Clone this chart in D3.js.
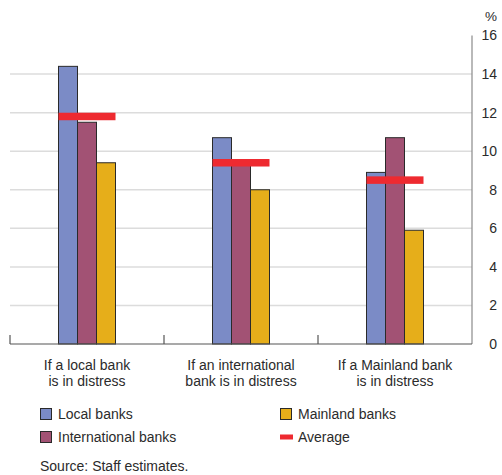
<!DOCTYPE html>
<html>
<head>
<meta charset="utf-8">
<script src="https://cdn.jsdelivr.net/npm/d3@7"></script>
<style>
  body { margin: 0; background: #fff; }
  text { font-family: "Liberation Sans", Arial, sans-serif; fill: #2b2b2b; }
</style>
</head>
<body>
<div id="chart"></div>
<script>
// Data
const categories = [["If a local bank", "is in distress"], ["If an international", "bank is in distress"], ["If a Mainland bank", "is in distress"]];
const seriesNames = ["Local banks", "International banks", "Mainland banks"];
const localBanks = [14.4, 10.7, 8.9];
const internationalBanks = [11.5, 9.5, 10.7];
const mainlandBanks = [9.4, 8.0, 5.9];
const averages = [11.8, 9.4, 8.5];
const yTicks = [0, 2, 4, 6, 8, 10, 12, 14, 16];

const colors = ["#7b8bc6", "#a25274", "#e6ae1a"];
const avgColor = "#ee2a30";

const W = 502, H = 475;
const svg = d3.select("#chart").append("svg")
    .attr("width", W).attr("height", H);

const plot = {left: 10, right: 472, top: 35.5, bottom: 344};

const x = d3.scaleBand()
    .domain(d3.range(categories.length))
    .range([plot.left, plot.right]);

const xInner = d3.scaleBand()
    .domain(d3.range(seriesNames.length))
    .range([0, 57])
    .padding(0);

const y = d3.scaleLinear().domain([0, 16]).range([plot.bottom, plot.top]);

// Gridlines
svg.append("g").selectAll("line")
    .data(yTicks.filter(t => t > 0 && t < 16))
    .enter().append("line")
    .attr("x1", plot.left).attr("x2", plot.right)
    .attr("y1", d => y(d)).attr("y2", d => y(d))
    .attr("stroke", "#dcdcdc").attr("stroke-width", 1.5);

// Right axis line
svg.append("line")
    .attr("x1", plot.right).attr("x2", plot.right)
    .attr("y1", plot.top).attr("y2", plot.bottom)
    .attr("stroke", "#8a8a8a").attr("stroke-width", 1.2);

// Tick labels
svg.append("g").selectAll("text")
    .data(yTicks)
    .enter().append("text")
    .attr("x", 497).attr("y", d => y(d)).attr("dy", "0.35em")
    .attr("text-anchor", "end")
    .style("font-size", "14px")
    .text(d => d);

svg.append("text")
    .attr("x", 497).attr("y", 21)
    .attr("text-anchor", "end")
    .style("font-size", "13.5px")
    .text("%");

// Bars
const series = [localBanks, internationalBanks, mainlandBanks];
const groupOffset = (x.bandwidth() - 57) / 2;

series.forEach((vals, s) => {
    svg.append("g").selectAll("rect")
        .data(vals)
        .enter().append("rect")
        .attr("x", (d, i) => x(i) + groupOffset + xInner(s))
        .attr("y", d => y(d))
        .attr("width", xInner.bandwidth())
        .attr("height", d => y(0) - y(d))
        .attr("fill", colors[s])
        .attr("stroke", "#2a2a2a").attr("stroke-width", 1);
});

// Averages
svg.append("g").selectAll("rect")
    .data(averages)
    .enter().append("rect")
    .attr("x", (d, i) => x(i) + groupOffset)
    .attr("y", d => y(d) - 3.75)
    .attr("width", 57)
    .attr("height", 7.5)
    .attr("fill", avgColor);

// Bottom axis
svg.append("line")
    .attr("x1", plot.left).attr("x2", plot.right)
    .attr("y1", plot.bottom).attr("y2", plot.bottom)
    .attr("stroke", "#555").attr("stroke-width", 1.2);

svg.append("g").selectAll("line")
    .data(d3.range(categories.length))
    .enter().append("line")
    .attr("x1", i => x(i)).attr("x2", i => x(i))
    .attr("y1", plot.bottom - 9).attr("y2", plot.bottom)
    .attr("stroke", "#555").attr("stroke-width", 1.2);

// Category labels
const catLabel = svg.append("g").selectAll("text")
    .data(categories)
    .enter().append("text")
    .attr("text-anchor", "middle")
    .style("font-size", "14px");

catLabel.each(function(lines, i) {
    lines.forEach((ln, j) => {
        d3.select(this).append("tspan")
            .attr("x", x(i) + x.bandwidth() / 2)
            .attr("y", 370 + j * 16)
            .text(ln);
    });
});

// Legend
const legendItems = [
    {name: seriesNames[0], color: colors[0], type: "box", lx: 40, ly: 414},
    {name: seriesNames[1], color: colors[1], type: "box", lx: 40, ly: 437},
    {name: seriesNames[2], color: colors[2], type: "box", lx: 280, ly: 414},
    {name: "Average", color: avgColor, type: "line", lx: 280, ly: 437}
];

const leg = svg.append("g").selectAll("g")
    .data(legendItems)
    .enter().append("g");

leg.filter(d => d.type === "box").append("rect")
    .attr("x", d => d.lx + 0.5).attr("y", d => d.ly - 5.5)
    .attr("width", 11).attr("height", 11)
    .attr("fill", d => d.color)
    .attr("stroke", "#2a2a2a").attr("stroke-width", 1);

leg.filter(d => d.type === "line").append("rect")
    .attr("x", d => d.lx).attr("y", d => d.ly - 2.5)
    .attr("width", 13).attr("height", 5)
    .attr("fill", d => d.color);

leg.append("text")
    .attr("x", d => d.lx + 18).attr("y", d => d.ly).attr("dy", "0.36em")
    .style("font-size", "14px")
    .text(d => d.name);

svg.append("text")
    .attr("x", 40).attr("y", 471)
    .style("font-size", "14px")
    .text("Source: Staff estimates.");
</script>
</body>
</html>
